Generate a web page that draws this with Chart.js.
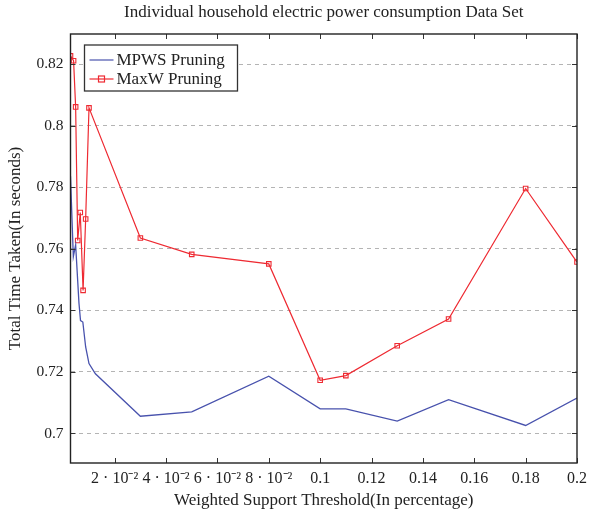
<!DOCTYPE html>
<html>
<head>
<meta charset="utf-8">
<script src="https://cdn.jsdelivr.net/npm/chart.js@4.4.1/dist/chart.umd.min.js"></script>
<style>
  html, body { margin: 0; padding: 0; background: #fff; }
</style>
</head>
<body>
<canvas id="myChart" width="589" height="516"></canvas>
<script>
// dados
const mpwsX = [0.0028, 0.0039, 0.0048, 0.0061, 0.0067, 0.0076, 0.0087, 0.0100, 0.0125, 0.03, 0.05, 0.08, 0.10, 0.11, 0.13, 0.15, 0.18, 0.20]
const mpwsY = [0.7836, 0.7575, 0.7613, 0.7423, 0.7367, 0.7362, 0.7281, 0.7227, 0.7194, 0.7056, 0.7070, 0.7186, 0.7080, 0.7080, 0.7040, 0.7110, 0.7026, 0.7115]

const maxwX = [0.0028, 0.0040, 0.0048, 0.0056, 0.0066, 0.0077, 0.0087, 0.0100, 0.03, 0.05, 0.08, 0.10, 0.11, 0.13, 0.15, 0.18, 0.20]
const maxwY = [0.8227, 0.8211, 0.8061, 0.7627, 0.7718, 0.7465, 0.7697, 0.8058, 0.7635, 0.7582, 0.7551, 0.7173, 0.7188, 0.7285, 0.7372, 0.7796, 0.7557]

const xTicks = [0.02, 0.04, 0.06, 0.08, 0.10, 0.12, 0.14, 0.16, 0.18, 0.20]
const xTickLabels = ['2 · 10⁻²', '4 · 10⁻²', '6 · 10⁻²', '8 · 10⁻²', '0.1', '0.12', '0.14', '0.16', '0.18', '0.2']
const yTicks = [0.70, 0.72, 0.74, 0.76, 0.78, 0.80, 0.82]
const yTickLabels = ['0.7', '0.72', '0.74', '0.76', '0.78', '0.8', '0.82']

const titulo = 'Individual household electric power consumption Data Set'

const azul = '#4852ad'
const vermelho = '#ee2a32'
const fonte = 'Liberation Serif'

// titulo centrado na area do grafico, moldura, ticks para dentro e legenda com caixa
const moldura = {
  id: 'moldura',
  afterDraw(chart) {
    const { ctx, chartArea: a, scales } = chart
    ctx.save()

    ctx.fillStyle = '#222'
    ctx.font = '17px "' + fonte + '"'
    ctx.textAlign = 'center'
    ctx.textBaseline = 'middle'
    ctx.fillText(titulo, (a.left + a.right) / 2, 13)
    ctx.textAlign = 'left'

    ctx.strokeStyle = '#333'
    ctx.lineWidth = 1
    ctx.beginPath()
    xTicks.forEach(v => {
      const px = Math.round(scales.x.getPixelForValue(v)) + 0.5
      ctx.moveTo(px, a.bottom); ctx.lineTo(px, a.bottom - 5)
      ctx.moveTo(px, a.top); ctx.lineTo(px, a.top + 5)
    })
    yTicks.forEach(v => {
      const py = Math.round(scales.y.getPixelForValue(v)) + 0.5
      ctx.moveTo(a.left, py); ctx.lineTo(a.left + 5, py)
      ctx.moveTo(a.right, py); ctx.lineTo(a.right - 5, py)
    })
    ctx.stroke()
    ctx.lineWidth = 1.4
    ctx.strokeStyle = '#222'
    ctx.strokeRect(a.left, a.top, a.right - a.left, a.bottom - a.top)

    // legenda
    const lx = a.left + 14, ly = a.top + 11, lw = 153, lh = 46
    ctx.fillStyle = '#fff'
    ctx.fillRect(lx, ly, lw, lh)
    ctx.lineWidth = 1.3
    ctx.strokeStyle = '#333'
    ctx.strokeRect(lx, ly, lw, lh)
    chart.data.datasets.forEach((ds, i) => {
      const cy = ly + 15 + i * 19
      ctx.strokeStyle = ds.borderColor
      ctx.lineWidth = 1.2
      ctx.beginPath()
      ctx.moveTo(lx + 5, cy); ctx.lineTo(lx + 29, cy)
      ctx.stroke()
      if (ds.pointRadius > 0) {
        ctx.strokeRect(lx + 14, cy - 3, 6, 6)
      }
      ctx.fillStyle = '#222'
      ctx.fillText(ds.label, lx + 32, cy + 1)
    })
    ctx.restore()
  }
}

const ctx = document.getElementById('myChart')

new Chart(ctx, {
  type: 'line',
  data: {
    datasets: [{
      label: 'MPWS Pruning',
      data: mpwsX.map((x, i) => ({ x: x, y: mpwsY[i] })),
      borderColor: azul,
      borderWidth: 1.3,
      pointRadius: 0,
      tension: 0
    }, {
      label: 'MaxW Pruning',
      data: maxwX.map((x, i) => ({ x: x, y: maxwY[i] })),
      borderColor: vermelho,
      borderWidth: 1.2,
      pointStyle: 'rect',
      pointRadius: 3.2,
      pointBorderWidth: 1.1,
      pointBackgroundColor: 'rgba(0,0,0,0)',
      pointBorderColor: vermelho,
      tension: 0
    }]
  },
  options: {
    responsive: false,
    animation: false,
    layout: { padding: { left: 0, right: 12, top: 34, bottom: 0 } },
    plugins: {
      legend: { display: false },
      tooltip: { enabled: false },
      title: { display: false }
    },
    scales: {
      x: {
        type: 'linear',
        min: 0.0028,
        max: 0.2,
        afterBuildTicks: s => { s.ticks = xTicks.map(v => ({ value: v })) },
        afterFit: s => { s.height = 53; s.paddingLeft = 0; s.paddingRight = 0 },
        grid: { display: false, drawTicks: false },
        border: { display: false },
        ticks: {
          autoSkip: false,
          maxRotation: 0,
          padding: 6,
          color: '#222',
          font: { family: fonte, size: 16 },
          callback: v => xTickLabels[xTicks.findIndex(t => Math.abs(t - v) < 1e-9)]
        },
        title: {
          display: true,
          text: 'Weighted Support Threshold(In percentage)',
          color: '#222',
          font: { family: fonte, size: 17 },
          padding: { top: 0, bottom: 5 }
        }
      },
      y: {
        type: 'linear',
        min: 0.6904,
        max: 0.8298,
        afterBuildTicks: s => { s.ticks = yTicks.map(v => ({ value: v })) },
        afterFit: s => { s.width = 70.5; s.paddingTop = 0; s.paddingBottom = 0 },
        grid: { color: '#b4b4b4', drawTicks: false, lineWidth: 1 },
        border: { display: false, dash: [4, 4] },
        ticks: {
          padding: 7,
          color: '#222',
          font: { family: fonte, size: 15.5 },
          callback: v => yTickLabels[yTicks.findIndex(t => Math.abs(t - v) < 1e-9)]
        },
        title: {
          display: true,
          text: 'Total Time Taken(In seconds)',
          color: '#222',
          font: { family: fonte, size: 17 },
          padding: { top: 5, bottom: 0 }
        }
      }
    }
  },
  plugins: [moldura]
})
</script>
</body>
</html>
